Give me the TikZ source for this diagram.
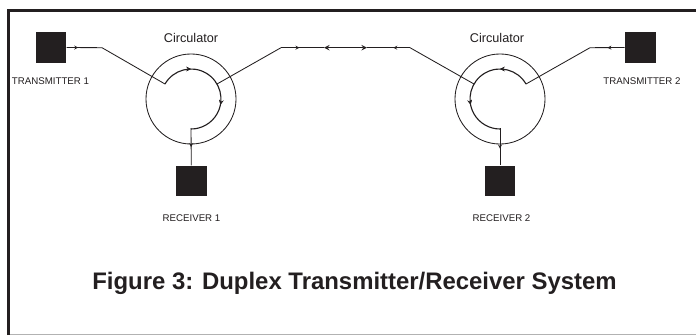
\documentclass[tikz,border=0pt]{standalone}
\usepackage{fontspec}
\setmainfont{Liberation Sans}
\usetikzlibrary{calc,decorations.markings,arrows}
\definecolor{inkblk}{HTML}{231F20}
\tikzset{
  wire/.style={draw=inkblk,line width=0.6pt},
  ring/.style={draw=inkblk,line width=0.6pt},
  blackbox/.style={fill=inkblk,minimum size=0.765cm,inner sep=0pt},
  tag/.style={inner sep=0pt,text=inkblk,font=\fontsize{6.9}{8}\selectfont},
  head/.style={inner sep=0pt,text=inkblk,font=\fontsize{9}{10}\selectfont},
  tick/.style={decoration={markings,mark=at position #1 with {\arrow[inkblk,scale=0.8]{stealth}}},postaction={decorate}}
}
\begin{document}
\begin{tikzpicture}[x=0.025cm,y=-0.025cm]
\useasboundingbox (0,0) rectangle (696,335);
\fill[white] (0,0) rectangle (696,335);
\draw[black!30,line width=0.8pt] (8.5,334.3)--(696,334.3);
\draw[inkblk,line width=2.1pt] (8.5,335)--(8.5,10.5)--(696,10.5);
% transmitter and receiver boxes
\node[blackbox] (tx1) at (51,47.5) {};
\node[blackbox] (rx1) at (191.3,181) {};
\node[blackbox] (rx2) at (500,181) {};
\node[blackbox] (tx2) at (640.3,47.5) {};
\coordinate (c1) at (191,99);
\coordinate (c2) at (500,99);
\draw[ring] (c1) circle (1.125cm);
\draw[ring] (c2) circle (1.125cm);
% corners of the line
\coordinate (a1) at (102,47.7);
\coordinate (a2) at (281,47.7);
\coordinate (a3) at (410,47.7);
\coordinate (a4) at (590,47.7);
\coordinate (m1) at (324,47.7);
\coordinate (m2) at (367,47.7);
\coordinate (p1) at (165,84);
\coordinate (p2) at (217,84);
\coordinate (p3) at (474,84);
\coordinate (p4) at (526,84);
\coordinate (q1) at (191,128);
\coordinate (q2) at (500,128);
% left side
\draw[wire,tick=0.33] (tx1.east)--(a1);
\draw[wire] (a1)--(p1);
\draw[wire,line width=0.8pt,tick=0.25,tick=0.67] (p1) arc[start angle=150,end angle=-90,x radius=30,y radius=-30];
\draw[wire] (p2)--(a2);
\draw[wire,tick=0.51] (q1)--(rx1.north);
% middle
\draw[wire,tick=0.43] (a2)--(m1);
\draw[wire,line width=0.75pt,<->,>=stealth] (m1)--(m2);
\draw[wire,tick=0.39] (a3)--(m2);
\draw[wire] (a3)--(p3);
% right side
\draw[wire,line width=0.8pt,tick=0.25,tick=0.67] (p4) arc[start angle=30,end angle=270,x radius=30,y radius=-30];
\draw[wire,tick=0.55] (q2)--(rx2.north);
\draw[wire] (p4)--(a4);
\draw[wire,tick=0.5] (tx2.west)--(a4);
% labels
\node[head] (lcirc1) at (191,37.5) {Circulator};
\node[head] (lcirc2) at (497,37.5) {Circulator};
\node[tag] (ltx1) at (50.5,81.5) {TRANSMITTER 1};
\node[tag] (lrx1) at (191.5,218) {RECEIVER 1};
\node[tag] (lrx2) at (501.5,218) {RECEIVER 2};
\node[tag] (ltx2) at (642,81.5) {TRANSMITTER 2};
\node[inner sep=0pt,text=inkblk,font=\bfseries\fontsize{17}{19}\selectfont] (title) at (354.5,283) {Figure 3: Duplex Transmitter/Receiver System};
\end{tikzpicture}
\end{document}
